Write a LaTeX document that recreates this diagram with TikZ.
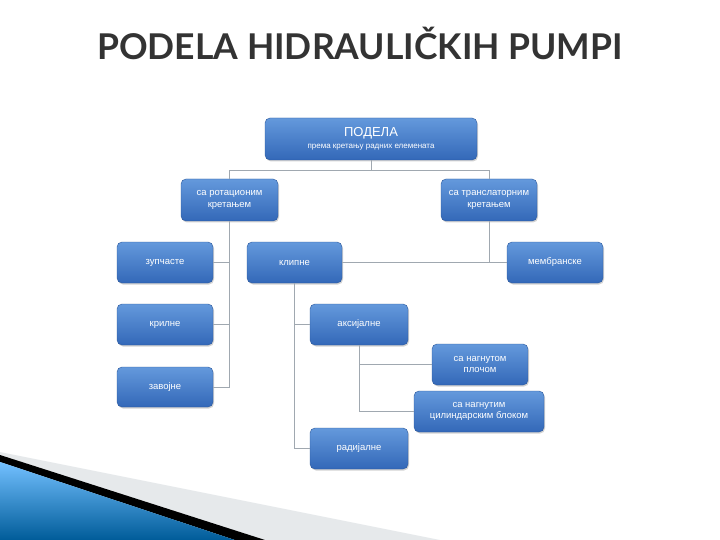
\documentclass[tikz,border=0pt]{standalone}
\usepackage{fontspec}
\setmainfont{Liberation Sans}
\newfontfamily\titlefont{Lato}
\usetikzlibrary{shadows}
\definecolor{boxtop}{HTML}{6499DC}
\definecolor{boxbot}{HTML}{3368B8}
\definecolor{linec}{HTML}{A0A8B0}
\tikzset{
  bx/.style={rounded corners=5pt, top color=boxtop, bottom color=boxbot, draw=boxbot!85!black, line width=0.4pt,
    text=white, font=\fontsize{9.5}{11.5}\selectfont, align=center, inner sep=0pt,
    drop shadow={shadow xshift=1pt, shadow yshift=-1.5pt, opacity=0.35}},
  ln/.style={draw=linec, line width=1pt}
}
\begin{document}
\begin{tikzpicture}[x=1pt,y=-1pt]
\useasboundingbox (0,0) rectangle (720,540);
\fill[white] (0,0) rectangle (720,540);
% decoration
\fill[cyan!12!gray!20] (0,452) -- (440,540) -- (250,540) -- (0,462) -- cycle;
\fill[black] (0,455) -- (265,540) -- (235,540) -- (0,462) -- cycle;
\shade[top color=cyan!55!blue!55, bottom color=cyan!60!blue!60!black] (0,462) -- (235,540) -- (0,540) -- cycle;
\node[font=\titlefont\bfseries\fontsize{35.5}{40}\selectfont, text=black!80] (title) at (360,43) {PODELA HIDRAULIČKIH PUMPI};
% nodes
\node[bx, minimum width=212pt, minimum height=42pt] (top) at (371,139) {{\fontsize{13}{15}\selectfont ПОДЕЛА}\\[1pt]{\fontsize{8}{9.5}\selectfont према кретању радних елемената}};
\node[bx, minimum width=97pt, minimum height=42pt] (rot) at (229.5,200) {са ротационим\\кретањем};
\node[bx, minimum width=96pt, minimum height=42pt] (tr) at (489,200) {са транслаторним\\кретањем};
\node[bx, minimum width=96pt, minimum height=41pt] (zup) at (165,262.5) {зупчасте};
\node[bx, minimum width=95pt, minimum height=41pt] (kl) at (294.5,262.5) {клипне};
\node[bx, minimum width=96pt, minimum height=41pt] (mem) at (555,262.5) {мембранске};
\node[bx, minimum width=96pt, minimum height=41pt] (kr) at (165,324.5) {крилне};
\node[bx, minimum width=96pt, minimum height=40pt] (zav) at (165,387) {завојне};
\node[bx, minimum width=98pt, minimum height=41pt] (aks) at (359,324.5) {аксијалне};
\node[bx, minimum width=96pt, minimum height=41pt] (pl) at (480,364.5) {са нагнутом\\плочом};
\node[bx, minimum width=130pt, minimum height=41pt] (cil) at (479,411.5) {са нагнутим\\цилиндарским блоком};
\node[bx, minimum width=98pt, minimum height=41pt] (rad) at (359,448.5) {радијалне};
% connectors
\draw[ln] (top.south) -- ++(0,10) -| (rot.north);
\draw[ln] (top.south) ++(0,10) -| (tr.north);
\draw[ln] (rot.south) |- (zav.east);
\coordinate (zj) at (zup.east -| rot.south);
\draw[ln] (zup.east) -- (zj);
\draw[ln] (kr.east) -- (kr.east -| rot.south);
\draw[ln] (kl.east) -- (mem.west);
\draw[ln] (tr.south) -- (tr.south |- mem.west);
\draw[ln] (kl.south) |- (rad.west);
\draw[ln] (aks.west) -- (aks.west -| kl.south);
\draw[ln] (aks.south) |- (cil.west);
\draw[ln] (pl.west) -- (pl.west -| aks.south);
\end{tikzpicture}
\end{document}
